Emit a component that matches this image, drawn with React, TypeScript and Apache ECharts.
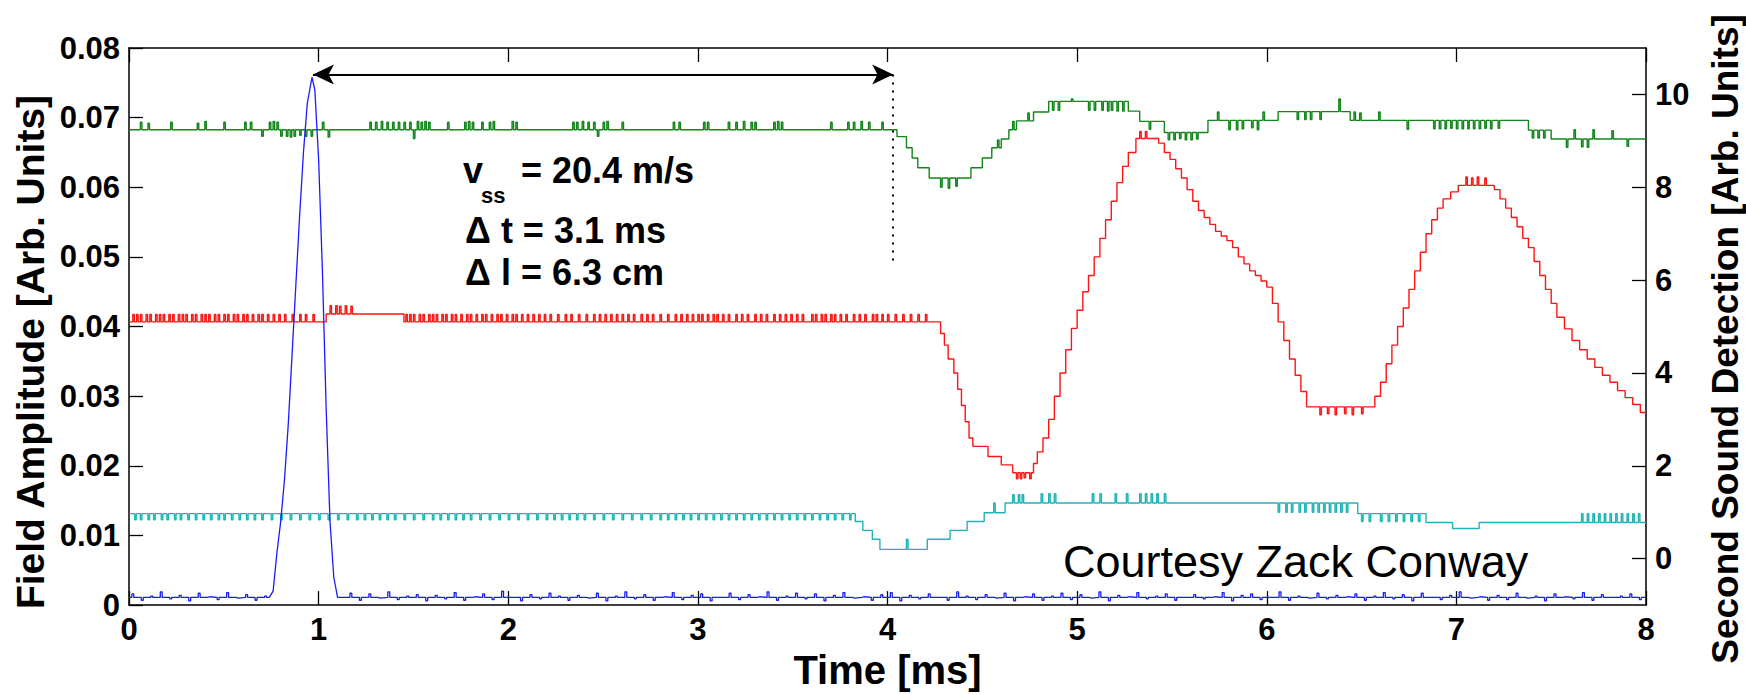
import React, { useEffect, useRef } from "react";
import * as echarts from "echarts";

const FONT = '"Liberation Sans", Arial, Helvetica, sans-serif';

// ---- axis ranges / ticks ----
const X_MIN = 0;
const X_MAX = 8;
const LEFT_MAX = 0.08;
const RIGHT_MIN = -1;
const RIGHT_MAX = 11;
const rightTicks = [0, 2, 4, 6, 8, 10];

// ---- titles / notes ----
const xTitle = "Time [ms]";
const leftTitle = "Field Amplitude [Arb. Units]";
const rightTitle = "Second Sound Detection [Arb. Units]";
const credit = "Courtesy Zack Conway";

// ---- blue: field amplitude (left axis) ----
const BLUE_BASE = 0.0011;
const bluePulse = [
  [0.74, 0.0011], [0.76, 0.002], [0.78, 0.0075], [0.8, 0.012], [0.82, 0.018],
  [0.84, 0.026], [0.86, 0.036], [0.88, 0.046], [0.9, 0.056], [0.92, 0.065],
  [0.94, 0.072], [0.965, 0.0758], [0.98, 0.074], [1.0, 0.064], [1.02, 0.048],
  [1.04, 0.028], [1.06, 0.012], [1.08, 0.004], [1.1, 0.0011],
];
const BLUE_STEP = 0.05; // spacing of the noise samples (ms)
const BLUE_OFFSET = 0.015;
// baseline noise peaks in units of 1e-4, one per 0.05 ms
const blueNoise = [
  16, 7, 13, 19, 9, 14, 6, 17, 12, 8, 18, 10, 15, 7, 13, 20,
  9, 15, 6, 14, 18, 8, 12, 17, 7, 16, 10, 19, 8, 13, 15, 6,
  14, 9, 18, 7, 12, 16, 8, 20, 11, 6, 15, 9, 17, 13, 7, 14,
  10, 17, 6, 13, 19, 9, 15, 7, 12, 18, 8, 14, 16, 6, 11, 17,
  8, 15, 12, 19, 7, 13, 17, 9, 16, 6, 14, 18, 10, 12, 7, 15,
  18, 6, 14, 9, 16, 11, 7, 19, 13, 8, 15, 10, 17, 6, 12, 16,
  7, 13, 17, 8, 15, 10, 19, 6, 14, 12, 18, 9, 13, 16, 7, 11,
  15, 9, 12, 18, 6, 14, 16, 8, 11, 19, 7, 13, 10, 17, 9, 14,
  12, 16, 7, 13, 18, 9, 15, 6, 17, 11, 8, 14, 19, 10, 12, 7,
  14, 8, 17, 10, 13, 6, 16, 12, 9, 18, 7, 15, 11, 13, 16, 8,
];

// ---- green: detector 1 (right axis) ----
const greenLevels = [
  [0, 9.24], [4.05, 9.09], [4.1, 8.85], [4.13, 8.63], [4.16, 8.42], [4.22, 8.2],
  [4.44, 8.42], [4.5, 8.63], [4.55, 8.85], [4.6, 9.04], [4.64, 9.24], [4.68, 9.43],
  [4.77, 9.62], [4.85, 9.85], [5.27, 9.64], [5.33, 9.42], [5.46, 9.18], [5.69, 9.44],
  [6.06, 9.63], [6.44, 9.44], [7.38, 9.23], [7.5, 9.04], [8, 9.04],
];
const greenSpikes = [
  [0.06, 9.4], [0.1, 9.38], [0.22, 9.4], [0.36, 9.38], [0.4, 9.42], [0.5, 9.4],
  [0.61, 9.4], [0.64, 9.4], [0.7, 9.1], [0.74, 9.4], [0.76, 9.42], [0.78, 9.4],
  [0.8, 9.1], [0.83, 9.1], [0.85, 9.08], [0.87, 9.1], [0.9, 9.12], [0.93, 9.1],
  [0.96, 9.1], [1.02, 9.4], [1.05, 9.08], [1.27, 9.4], [1.3, 9.4], [1.33, 9.42],
  [1.36, 9.4], [1.39, 9.4], [1.42, 9.4], [1.45, 9.4], [1.48, 9.4], [1.5, 9.05],
  [1.52, 9.42], [1.54, 9.4], [1.56, 9.42], [1.58, 9.4], [1.68, 9.4], [1.77, 9.4],
  [1.79, 9.42], [1.81, 9.4], [1.86, 9.4], [1.9, 9.4], [1.92, 9.42], [2.02, 9.42],
  [2.04, 9.4], [2.34, 9.4], [2.36, 9.4], [2.39, 9.42], [2.42, 9.4], [2.45, 9.4],
  [2.47, 9.1], [2.5, 9.4], [2.52, 9.42], [2.6, 9.4], [2.87, 9.4], [2.9, 9.4],
  [3.03, 9.4], [3.05, 9.4], [3.16, 9.4], [3.2, 9.4], [3.24, 9.42], [3.28, 9.4],
  [3.3, 9.4], [3.4, 9.4], [3.42, 9.42], [3.44, 9.4], [3.7, 9.4], [3.79, 9.4],
  [3.82, 9.4], [3.86, 9.42], [3.9, 9.4], [3.97, 9.4],
  [4.28, 8.0], [4.32, 7.98], [4.36, 8.02], [4.58, 9.02], [4.66, 9.42], [4.74, 9.6],
  [4.87, 9.66], [4.9, 9.66], [4.97, 9.9], [5.06, 9.66], [5.09, 9.66], [5.13, 9.66],
  [5.16, 9.64], [5.18, 9.66], [5.21, 9.64], [5.24, 9.64], [5.38, 9.25], [5.48, 9.02],
  [5.51, 9.02], [5.54, 9.05], [5.57, 9.02], [5.6, 9.02], [5.63, 9.04], [5.74, 9.62],
  [5.8, 9.24], [5.84, 9.24], [5.87, 9.26], [5.92, 9.28], [5.95, 9.24], [5.98, 9.62],
  [6.16, 9.46], [6.2, 9.46], [6.23, 9.46], [6.28, 9.46], [6.38, 9.9], [6.46, 9.62],
  [6.49, 9.6], [6.59, 9.62], [6.74, 9.25], [6.88, 9.26], [6.91, 9.26], [6.94, 9.26],
  [6.97, 9.27], [7.0, 9.26], [7.03, 9.26], [7.06, 9.26], [7.09, 9.26], [7.12, 9.26],
  [7.15, 9.27], [7.18, 9.26], [7.22, 9.27], [7.4, 9.06], [7.43, 9.06], [7.46, 9.06],
  [7.58, 8.86], [7.62, 9.24], [7.66, 8.87], [7.69, 8.86], [7.72, 9.24], [7.82, 9.22],
  [7.9, 8.88],
];

// ---- red: detector 2 (right axis) ----
const redLevels = [
  [0, 5.1], [1.04, 5.27], [1.45, 5.1], [4.28, 4.85], [4.3, 4.6], [4.32, 4.3],
  [4.35, 4.0], [4.37, 3.65], [4.39, 3.3], [4.41, 2.95], [4.43, 2.6], [4.45, 2.42],
  [4.53, 2.2], [4.6, 2.02], [4.66, 1.85], [4.77, 2.05], [4.79, 2.3], [4.82, 2.6],
  [4.85, 3.0], [4.88, 3.5], [4.91, 4.0], [4.94, 4.5], [4.97, 4.96], [5.0, 5.35],
  [5.03, 5.75], [5.06, 6.1], [5.09, 6.5], [5.12, 6.9], [5.15, 7.3], [5.18, 7.7],
  [5.21, 8.1], [5.24, 8.45], [5.27, 8.75], [5.31, 9.05], [5.43, 8.95], [5.46, 8.75],
  [5.49, 8.6], [5.52, 8.4], [5.55, 8.2], [5.58, 7.95], [5.61, 7.7], [5.64, 7.5],
  [5.67, 7.35], [5.7, 7.2], [5.73, 7.05], [5.76, 6.95], [5.79, 6.85], [5.82, 6.7],
  [5.85, 6.5], [5.88, 6.35], [5.91, 6.2], [5.94, 6.1], [5.97, 5.98], [6.0, 5.85],
  [6.03, 5.5], [6.06, 5.1], [6.09, 4.7], [6.12, 4.3], [6.15, 3.95], [6.18, 3.6],
  [6.21, 3.27], [6.57, 3.5], [6.6, 3.8], [6.63, 4.2], [6.66, 4.6], [6.69, 5.0],
  [6.72, 5.4], [6.75, 5.8], [6.78, 6.2], [6.81, 6.6], [6.84, 7.0], [6.87, 7.3],
  [6.9, 7.55], [6.93, 7.75], [6.97, 7.9], [7.01, 8.04], [7.2, 7.95], [7.23, 7.75],
  [7.26, 7.55], [7.29, 7.35], [7.32, 7.15], [7.35, 6.9], [7.38, 6.7], [7.41, 6.4],
  [7.44, 6.1], [7.47, 5.8], [7.5, 5.5], [7.53, 5.2], [7.57, 4.95], [7.61, 4.7],
  [7.65, 4.5], [7.69, 4.3], [7.73, 4.12], [7.77, 3.95], [7.81, 3.8], [7.85, 3.62],
  [7.89, 3.47], [7.93, 3.32], [7.97, 3.15], [8, 3.1],
];
const redNoiseLevel = 5.26;
const redNoiseTimes = [
  0.02, 0.04, 0.06, 0.09, 0.11, 0.14, 0.16, 0.18, 0.21, 0.23, 0.26, 0.28, 0.3, 0.33,
  0.35, 0.38, 0.4, 0.42, 0.45, 0.47, 0.5, 0.52, 0.55, 0.57, 0.6, 0.62, 0.65, 0.68,
  0.7, 0.73, 0.76, 0.79, 0.82, 0.86, 0.9, 0.93, 0.97,
  1.46, 1.48, 1.5, 1.53, 1.55, 1.58, 1.6, 1.62, 1.65, 1.67, 1.7, 1.72, 1.75, 1.78,
  1.8, 1.83, 1.86, 1.88, 1.91, 1.94, 1.96, 1.99, 2.02, 2.04, 2.07, 2.1, 2.13, 2.16,
  2.19, 2.22, 2.26, 2.3, 2.33, 2.37, 2.41, 2.45, 2.48, 2.51, 2.54, 2.57, 2.6, 2.63,
  2.66, 2.7, 2.73, 2.76, 2.8, 2.84, 2.88, 2.91, 2.94, 2.97, 3.0, 3.02, 3.05, 3.08,
  3.1, 3.13, 3.16, 3.2, 3.23, 3.26, 3.3, 3.33, 3.36, 3.4, 3.43, 3.46, 3.49, 3.52,
  3.55, 3.6, 3.62, 3.65, 3.67, 3.7, 3.72, 3.75, 3.78, 3.82, 3.85, 3.88, 3.92, 3.94,
  3.97, 4.0, 4.04, 4.08, 4.12, 4.16, 4.2,
];
const redSpikes = [
  [1.06, 5.45], [1.09, 5.45], [1.11, 5.44], [1.14, 5.45], [1.17, 5.44],
  [4.68, 1.72], [4.7, 1.72], [4.72, 1.74], [4.75, 1.72], [5.33, 9.2], [5.36, 9.2],
  [6.28, 3.1], [6.32, 3.12], [6.36, 3.1], [6.41, 3.12], [6.45, 3.1], [6.5, 3.12],
  [7.05, 8.22], [7.08, 8.2], [7.11, 8.22], [7.15, 8.2],
];

// ---- cyan: detector 3 (right axis) ----
const cyanLevels = [
  [0, 0.97], [3.83, 0.8], [3.87, 0.61], [3.92, 0.42], [3.96, 0.2], [4.21, 0.42],
  [4.33, 0.61], [4.42, 0.8], [4.51, 0.99], [4.62, 1.2], [6.48, 0.97], [6.84, 0.78],
  [6.98, 0.65], [7.12, 0.78], [8, 0.78],
];
const cyanNoiseLevel = 0.84;
const cyanNoiseTimes = [
  0.03, 0.06, 0.1, 0.13, 0.17, 0.2, 0.24, 0.27, 0.31, 0.35, 0.39, 0.43, 0.47, 0.5,
  0.54, 0.58, 0.62, 0.66, 0.7, 0.75, 0.8, 0.85, 0.9, 0.95, 1.0, 1.05, 1.1, 1.15,
  1.2, 1.24, 1.28, 1.32, 1.36, 1.4, 1.45, 1.5, 1.55, 1.6, 1.64, 1.68, 1.72, 1.76,
  1.8, 1.85, 1.9, 1.95, 2.0, 2.05, 2.1, 2.15, 2.2, 2.24, 2.28, 2.32, 2.36, 2.4,
  2.45, 2.5, 2.55, 2.6, 2.65, 2.7, 2.75, 2.8, 2.84, 2.88, 2.92, 2.96, 3.0, 3.04,
  3.08, 3.12, 3.16, 3.2, 3.24, 3.28, 3.32, 3.36, 3.4, 3.44, 3.48, 3.52, 3.56, 3.6,
  3.64, 3.68, 3.72, 3.76, 3.8,
];
const cyanSpikes = [
  [4.1, 0.42], [4.56, 1.2], [4.66, 1.38], [4.69, 1.38], [4.71, 1.38], [4.81, 1.4],
  [4.85, 1.4], [4.88, 1.4], [5.08, 1.4], [5.12, 1.4], [5.2, 1.4], [5.26, 1.4],
  [5.33, 1.4], [5.36, 1.4], [5.39, 1.4], [5.42, 1.4], [5.46, 1.4],
  [6.06, 1.0], [6.1, 1.0], [6.13, 1.0], [6.17, 1.0], [6.2, 1.0], [6.24, 1.0],
  [6.27, 1.0], [6.3, 1.0], [6.33, 1.0], [6.36, 1.0], [6.39, 1.0], [6.42, 1.0],
  [6.5, 0.8], [6.54, 0.8], [6.6, 0.8], [6.64, 0.8], [6.68, 0.8], [6.72, 0.8],
  [6.76, 0.8], [6.8, 0.8],
  [7.66, 0.97], [7.69, 0.97], [7.72, 0.97], [7.75, 0.97], [7.78, 0.97], [7.81, 0.97],
  [7.84, 0.97], [7.87, 0.97], [7.9, 0.97], [7.93, 0.97], [7.96, 0.97],
];

// ---- annotations (data coordinates on left axis) ----
const arrowStart = [0.97, 0.0762];
const arrowEnd = [4.03, 0.0762];
const dottedEnd = [4.03, 0.049];

// ---------------- builders ----------------
function buildStep(levels: number[][], spikes: number[][], w: number) {
  const sp = [...spikes].sort((a, b) => a[0] - b[0]);
  const pts: number[][] = [];
  let k = 0;
  for (let i = 0; i < levels.length - 1; i++) {
    const t0 = levels[i][0];
    const v = levels[i][1];
    const t1 = levels[i + 1][0];
    pts.push([t0, v]);
    while (k < sp.length && sp[k][0] < t1) {
      const ts = sp[k][0];
      const vs = sp[k][1];
      if (ts >= t0 && ts + w < t1) {
        pts.push([ts, v], [ts, vs], [ts + w, vs], [ts + w, v]);
      }
      k++;
    }
    pts.push([t1, v]);
  }
  return pts;
}

function buildBlue() {
  const pStart = bluePulse[0][0];
  const pEnd = bluePulse[bluePulse.length - 1][0];
  const spikes = blueNoise.map((n, i) => [+(i * BLUE_STEP + BLUE_OFFSET).toFixed(3), n * 1e-4]);
  const before = buildStep(
    [[X_MIN, BLUE_BASE], [pStart, BLUE_BASE]],
    spikes.filter((s) => s[0] < pStart - 0.02),
    0.01
  );
  const after = buildStep(
    [[pEnd, BLUE_BASE], [X_MAX, BLUE_BASE]],
    spikes.filter((s) => s[0] > pEnd + 0.02),
    0.01
  );
  return [...before, ...bluePulse, ...after];
}

const SPIKE_W = 0.008;

export default function App() {
  const ref = useRef<HTMLDivElement>(null);
  useEffect(() => {
    const chart = echarts.init(ref.current!, null, { renderer: "svg" });

    const greenData = buildStep(greenLevels, greenSpikes, SPIKE_W);
    const redData = buildStep(
      redLevels,
      [...redNoiseTimes.map((t) => [t, redNoiseLevel]), ...redSpikes],
      SPIKE_W
    );
    const cyanData = buildStep(
      cyanLevels,
      [...cyanNoiseTimes.map((t) => [t, cyanNoiseLevel]), ...cyanSpikes],
      SPIKE_W
    );
    const blueData = buildBlue();

    const axisLine = { show: true, onZero: false, lineStyle: { color: "#000", width: 1.5 } };
    const tick = { show: true, inside: true, length: 14, lineStyle: { color: "#000", width: 1.3 } };
    const tickLabel = { fontSize: 31, fontWeight: "bold", color: "#000", fontFamily: FONT };
    const txt = (text: string, x: number, y: number, font: string, extra: any = {}) => ({
      type: "text", x, y, silent: true, ...extra,
      style: {
        text, font, fill: "#000",
        align: extra.center ? "center" : "left", textAlign: extra.center ? "center" : "left",
        verticalAlign: "middle", textVerticalAlign: "middle",
      },
    });

    const option: any = {
      animation: false,
      backgroundColor: "#fff",
      grid: { left: 129, top: 48, width: 1517, height: 568, containLabel: false },
      xAxis: [
        {
          type: "value", min: X_MIN, max: X_MAX, interval: 1, position: "bottom",
          axisLine, axisTick: tick, splitLine: { show: false },
          axisLabel: { ...tickLabel, margin: 9 },
          name: xTitle, nameLocation: "middle", nameGap: 39,
          nameTextStyle: { fontSize: 40, fontWeight: "bold", color: "#000", fontFamily: FONT },
        },
        {
          type: "value", min: X_MIN, max: X_MAX, interval: 1, position: "top",
          axisLine, axisTick: tick, splitLine: { show: false },
          axisLabel: { show: false },
        },
      ],
      yAxis: [
        {
          type: "value", min: 0, max: LEFT_MAX, interval: 0.01, position: "left",
          axisLine, axisTick: tick, splitLine: { show: false },
          axisLabel: {
            ...tickLabel, margin: 9,
            formatter: (v: number) => (v === 0 ? "0" : v.toFixed(2)),
          },
        },
        {
          type: "value", min: RIGHT_MIN, max: RIGHT_MAX, position: "right",
          axisLine, splitLine: { show: false },
          axisTick: { ...tick, customValues: rightTicks },
          axisLabel: { ...tickLabel, margin: 9, customValues: rightTicks },
        },
      ],
      series: [
        {
          name: "green", type: "line", xAxisIndex: 0, yAxisIndex: 1, data: greenData,
          showSymbol: false, silent: true, lineStyle: { color: "#12861a", width: 1.4 },
        },
        {
          name: "red", type: "line", xAxisIndex: 0, yAxisIndex: 1, data: redData,
          showSymbol: false, silent: true, lineStyle: { color: "#ff1414", width: 1.4 },
        },
        {
          name: "cyan", type: "line", xAxisIndex: 0, yAxisIndex: 1, data: cyanData,
          showSymbol: false, silent: true, lineStyle: { color: "#1fb4b4", width: 1.4 },
        },
        {
          name: "blue", type: "line", xAxisIndex: 0, yAxisIndex: 0, data: blueData,
          showSymbol: false, silent: true, lineStyle: { color: "#1a1aff", width: 1.3 },
          markLine: {
            silent: true,
            animation: false,
            label: { show: false },
            symbol: ["arrow", "arrow"],
            symbolSize: [15, 21],
            lineStyle: { color: "#000", width: 2, type: "solid" },
            data: [
              [{ coord: arrowStart }, { coord: arrowEnd }],
              [
                { coord: arrowEnd, symbol: "none", lineStyle: { type: [2, 6], width: 2, color: "#000" } },
                { coord: dottedEnd, symbol: "none" },
              ],
            ],
          },
        },
      ],
      graphic: [
        txt(leftTitle, 30, 352, `bold 39px ${FONT}`, { rotation: Math.PI / 2, center: true }),
        txt(rightTitle, 1725, 339, `bold 37px ${FONT}`, { rotation: Math.PI / 2, center: true }),
        txt("v", 463, 170.5, `bold 36px ${FONT}`),
        txt("ss", 481, 195, `bold 22px ${FONT}`),
        txt("= 20.4 m/s", 521, 170.5, `bold 36px ${FONT}`),
        txt("\u0394 t = 3.1 ms", 465, 230, `bold 36px ${FONT}`),
        txt("\u0394 l = 6.3 cm", 465, 272, `bold 36px ${FONT}`),
        txt(credit, 1063, 561, `45px ${FONT}`),
      ],
    };

    chart.setOption(option);
    return () => chart.dispose();
  }, []);

  return (
    <div
      ref={ref}
      style={{ position: "absolute", left: 0, top: 0, width: 1746, height: 695, background: "#fff" }}
    />
  );
}
